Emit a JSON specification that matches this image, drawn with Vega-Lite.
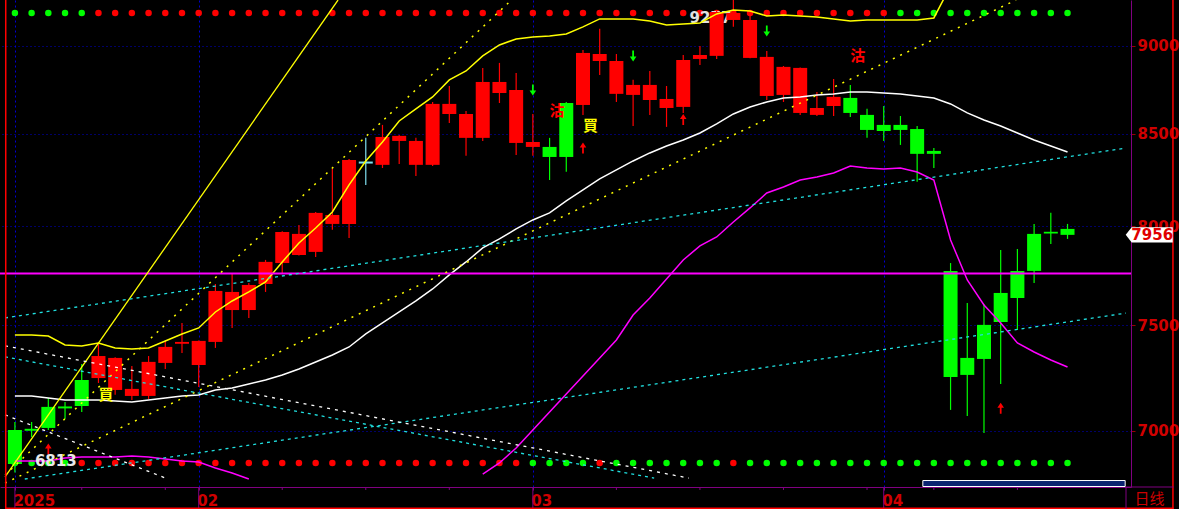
{
"$schema":"https://vega.github.io/schema/vega-lite/v6.json",
"width":1131,"height":487,
"autosize":{"type":"none"},
"padding":{"left":0,"top":0,"right":48,"bottom":22},
"background":"#000000",
"config":{"view":{"stroke":null},"font":"DejaVu Sans"},
"datasets":{
"c":[
{"i":0,"o":7005,"h":7041,"l":6813,"c":6851,"k":"g","tk":"g","bk":"g","up":7452.8,"mid":7161.8},
{"i":1,"o":7010,"h":7041,"l":6973,"c":7001,"k":"g","tk":"g","bk":"g","up":7452.8,"mid":7161.8},
{"i":2,"o":7111,"h":7152,"l":7005,"c":7014,"k":"g","tk":"g","bk":"g","up":7447.9,"mid":7152.4},
{"i":3,"o":7113,"h":7134,"l":7055,"c":7104,"k":"g","tk":"g","bk":"g","up":7404.3,"mid":7143.1},
{"i":4,"o":7237,"h":7313,"l":7087,"c":7115,"k":"g","tk":"g","bk":"r","up":7399.5,"mid":7143.1},
{"i":5,"o":7246,"h":7414,"l":7223,"c":7351,"k":"r","tk":"r","bk":"r","up":7413.9,"mid":7143.1},
{"i":6,"o":7190,"h":7345,"l":7167,"c":7342,"k":"r","tk":"r","bk":"r","up":7389.8,"mid":7138.4},
{"i":7,"o":7162,"h":7303,"l":7143,"c":7195,"k":"r","tk":"r","bk":"r","up":7385.0,"mid":7133.7},
{"i":8,"o":7162,"h":7351,"l":7148,"c":7323,"k":"r","tk":"r","bk":"r","up":7389.8,"mid":7143.1},
{"i":9,"o":7318,"h":7424,"l":7289,"c":7395,"k":"r","tk":"r","bk":"r","up":7423.6,"mid":7152.4},
{"i":10,"o":7410,"h":7511,"l":7366,"c":7419,"k":"r","tk":"r","bk":"r","up":7457.6,"mid":7161.8},
{"i":11,"o":7308,"h":7426,"l":7204,"c":7424,"k":"r","tk":"r","bk":"r","up":7486.9,"mid":7166.5},
{"i":12,"o":7419,"h":7705,"l":7390,"c":7670,"k":"r","tk":"r","bk":"r","up":7565.5,"mid":7189.9},
{"i":13,"o":7575,"h":7756,"l":7487,"c":7665,"k":"r","tk":"r","bk":"r","up":7620.0,"mid":7199.3},
{"i":14,"o":7575,"h":7710,"l":7536,"c":7700,"k":"r","tk":"r","bk":"r","up":7664.9,"mid":7218.1},
{"i":15,"o":7705,"h":7827,"l":7665,"c":7817,"k":"r","tk":"r","bk":"r","up":7715.1,"mid":7236.9},
{"i":16,"o":7811,"h":7975,"l":7761,"c":7971,"k":"r","tk":"r","bk":"r","up":7816.5,"mid":7260.6},
{"i":17,"o":7852,"h":8008,"l":7850,"c":7961,"k":"r","tk":"r","bk":"r","up":7914.1,"mid":7289.1},
{"i":18,"o":7868,"h":8076,"l":7842,"c":8071,"k":"r","tk":"r","bk":"r","up":7991.9,"mid":7322.5},
{"i":19,"o":8013,"h":8306,"l":7982,"c":8060,"k":"r","tk":"r","bk":"r","up":8075.8,"mid":7356.1},
{"i":20,"o":8013,"h":8360,"l":7940,"c":8355,"k":"r","tk":"r","bk":"r","up":8219.5,"mid":7394.6},
{"i":21,"o":8335,"h":8476,"l":8219,"c":8346,"k":"d","tk":"r","bk":"r","up":8349.2,"mid":7457.6},
{"i":22,"o":8328,"h":8548,"l":8311,"c":8481,"k":"r","tk":"r","bk":"r","up":8453.4,"mid":7511.3},
{"i":23,"o":8459,"h":8492,"l":8333,"c":8487,"k":"r","tk":"r","bk":"r","up":8570.1,"mid":7565.5},
{"i":24,"o":8328,"h":8476,"l":8268,"c":8459,"k":"r","tk":"r","bk":"r","up":8637.5,"mid":7620.0},
{"i":25,"o":8328,"h":8677,"l":8322,"c":8666,"k":"r","tk":"r","bk":"r","up":8705.5,"mid":7679.9},
{"i":26,"o":8609,"h":8768,"l":8559,"c":8666,"k":"r","tk":"r","bk":"r","up":8802.6,"mid":7750.5},
{"i":27,"o":8476,"h":8626,"l":8377,"c":8609,"k":"r","tk":"r","bk":"r","up":8854.4,"mid":7816.5},
{"i":28,"o":8476,"h":8872,"l":8459,"c":8791,"k":"r","tk":"r","bk":"r","up":8941.6,"mid":7888.3},
{"i":29,"o":8728,"h":8901,"l":8671,"c":8791,"k":"r","tk":"r","bk":"r","up":9006.0,"mid":7934.8},
{"i":30,"o":8448,"h":8843,"l":8382,"c":8745,"k":"r","tk":"r","bk":"r","up":9041.3,"mid":7986.7},
{"i":31,"o":8426,"h":8609,"l":8377,"c":8453,"k":"r","tk":"r","bk":"g","up":9053.2,"mid":8033.8},
{"i":32,"o":8426,"h":8476,"l":8246,"c":8371,"k":"g","tk":"r","bk":"g","up":9059.1,"mid":8070.6},
{"i":33,"o":8671,"h":8677,"l":8290,"c":8371,"k":"g","tk":"r","bk":"g","up":9071.0,"mid":8134.0},
{"i":34,"o":8660,"h":8977,"l":8604,"c":8959,"k":"r","tk":"r","bk":"g","up":9112.5,"mid":8192.7},
{"i":35,"o":8912,"h":9101,"l":8831,"c":8953,"k":"r","tk":"r","bk":"r","up":9160.2,"mid":8251.7},
{"i":36,"o":8723,"h":8953,"l":8677,"c":8912,"k":"r","tk":"r","bk":"g","up":9160.2,"mid":8300.3},
{"i":37,"o":8717,"h":8803,"l":8542,"c":8774,"k":"r","tk":"r","bk":"g","up":9160.2,"mid":8349.2},
{"i":38,"o":8688,"h":8854,"l":8604,"c":8774,"k":"r","tk":"r","bk":"g","up":9148.2,"mid":8393.0},
{"i":39,"o":8643,"h":8768,"l":8537,"c":8694,"k":"r","tk":"r","bk":"g","up":9124.4,"mid":8431.4},
{"i":40,"o":8649,"h":8947,"l":8615,"c":8918,"k":"r","tk":"r","bk":"g","up":9130.3,"mid":8464.4},
{"i":41,"o":8924,"h":9000,"l":8889,"c":8947,"k":"r","tk":"r","bk":"g","up":9136.3,"mid":8503.2},
{"i":42,"o":8942,"h":9214,"l":8924,"c":9202,"k":"r","tk":"r","bk":"g","up":9190.1,"mid":8553.4},
{"i":43,"o":9154,"h":9277,"l":9113,"c":9196,"k":"r","tk":"r","bk":"r","up":9214.1,"mid":8609.4},
{"i":44,"o":8930,"h":9202,"l":8928,"c":9154,"k":"r","tk":"r","bk":"g","up":9208.1,"mid":8648.8},
{"i":45,"o":8711,"h":8971,"l":8688,"c":8936,"k":"r","tk":"r","bk":"g","up":9178.1,"mid":8677.1},
{"i":46,"o":8717,"h":8883,"l":8677,"c":8878,"k":"r","tk":"r","bk":"g","up":9184.1,"mid":8699.8},
{"i":47,"o":8615,"h":8874,"l":8604,"c":8872,"k":"r","tk":"r","bk":"g","up":9178.1,"mid":8705.5},
{"i":48,"o":8604,"h":8734,"l":8598,"c":8643,"k":"r","tk":"r","bk":"g","up":9172.1,"mid":8716.8},
{"i":49,"o":8654,"h":8808,"l":8598,"c":8706,"k":"r","tk":"r","bk":"g","up":9160.2,"mid":8722.5},
{"i":50,"o":8700,"h":8774,"l":8592,"c":8615,"k":"g","tk":"r","bk":"g","up":9148.2,"mid":8733.9},
{"i":51,"o":8604,"h":8638,"l":8476,"c":8520,"k":"g","tk":"r","bk":"g","up":9154.2,"mid":8733.9},
{"i":52,"o":8548,"h":8654,"l":8459,"c":8514,"k":"g","tk":"r","bk":"g","up":9154.2,"mid":8728.2},
{"i":53,"o":8548,"h":8598,"l":8437,"c":8520,"k":"g","tk":"g","bk":"g","up":9154.2,"mid":8722.5},
{"i":54,"o":8525,"h":8542,"l":8236,"c":8388,"k":"g","tk":"g","bk":"g","up":9154.2,"mid":8711.1},
{"i":55,"o":8404,"h":8420,"l":8311,"c":8388,"k":"g","tk":"g","bk":"g","up":9166.2,"mid":8699.8},
{"i":56,"o":7771,"h":7811,"l":7097,"c":7251,"k":"g","tk":"g","bk":"g","up":9359.5,"mid":8665.7},
{"i":57,"o":7342,"h":7610,"l":7069,"c":7261,"k":"g","tk":"g","bk":"g","up":null,"mid":8615.0},
{"i":58,"o":7502,"h":7605,"l":6991,"c":7337,"k":"g","tk":"g","bk":"g","up":null,"mid":8575.7},
{"i":59,"o":7660,"h":7878,"l":7218,"c":7516,"k":"g","tk":"g","bk":"g","up":null,"mid":8542.2},
{"i":60,"o":7771,"h":7883,"l":7477,"c":7635,"k":"g","tk":"g","bk":"g","up":null,"mid":8503.2},
{"i":61,"o":7961,"h":8013,"l":7710,"c":7771,"k":"g","tk":"g","bk":"g","up":null,"mid":8464.4},
{"i":62,"o":7972,"h":8071,"l":7909,"c":7963,"k":"g","tk":"g","bk":"g","up":null,"mid":8431.4},
{"i":63,"o":7987,"h":8013,"l":7935,"c":7956,"k":"g","tk":"g","bk":"g","up":null,"mid":8398.4}
],
"lo":[
{"s":1,"i":0,"p":6864.2},{"s":1,"i":1,"p":6864.2},{"s":1,"i":2,"p":6864.2},{"s":1,"i":3,"p":6877.7},{"s":1,"i":4,"p":6882.2},{"s":1,"i":5,"p":6882.2},{"s":1,"i":6,"p":6882.2},{"s":1,"i":7,"p":6886.7},{"s":1,"i":8,"p":6882.2},{"s":1,"i":9,"p":6873.2},{"s":1,"i":10,"p":6864.2},{"s":1,"i":11,"p":6859.7},{"s":1,"i":12,"p":6833.0},{"s":1,"i":13,"p":6810.6},{"s":1,"i":14,"p":6784.0},
{"s":2,"i":28,"p":6806.2},{"s":2,"i":29,"p":6855.3},{"s":2,"i":30,"p":6922.8},{"s":2,"i":31,"p":7004.6},{"s":2,"i":32,"p":7087.4},{"s":2,"i":33,"p":7171.2},{"s":2,"i":34,"p":7255.9},{"s":2,"i":35,"p":7341.7},{"s":2,"i":36,"p":7428.5},{"s":2,"i":37,"p":7550.7},{"s":2,"i":38,"p":7635.0},{"s":2,"i":39,"p":7730.2},{"s":2,"i":40,"p":7826.7},{"s":2,"i":41,"p":7898.6},{"s":2,"i":42,"p":7945.2},{"s":2,"i":43,"p":8023.3},{"s":2,"i":44,"p":8097.0},{"s":2,"i":45,"p":8176.6},{"s":2,"i":46,"p":8208.7},{"s":2,"i":47,"p":8246.3},{"s":2,"i":48,"p":8262.5},{"s":2,"i":49,"p":8284.1},{"s":2,"i":50,"p":8322.1},{"s":2,"i":51,"p":8311.3},{"s":2,"i":52,"p":8305.8},{"s":2,"i":53,"p":8311.3},{"s":2,"i":54,"p":8289.5},{"s":2,"i":55,"p":8246.3},{"s":2,"i":56,"p":7929.6},{"s":2,"i":57,"p":7725.2},{"s":2,"i":58,"p":7600.2},{"s":2,"i":59,"p":7511.3},{"s":2,"i":60,"p":7413.9},{"s":2,"i":61,"p":7370.5},{"s":2,"i":62,"p":7332.1},{"s":2,"i":63,"p":7298.7}
],
"tr":[
{"g":"ys","id":1,"i":-0.59,"p":6793},{"g":"ys","id":1,"i":19.34,"p":9274},
{"g":"yd","id":2,"i":-0.59,"p":6802},{"g":"yd","id":2,"i":29.72,"p":9274},
{"g":"yd","id":3,"i":-0.59,"p":6766},{"g":"yd","id":3,"i":59.92,"p":9274},
{"g":"cd","id":4,"i":-0.59,"p":7536},{"g":"cd","id":4,"i":66.5,"p":8420},
{"g":"cd","id":5,"i":0.59,"p":6784},{"g":"cd","id":5,"i":66.5,"p":7560},
{"g":"cd","id":6,"i":-0.59,"p":7347},{"g":"cd","id":6,"i":38.26,"p":6788},
{"g":"wd","id":7,"i":-0.59,"p":7400},{"g":"wd","id":7,"i":40.34,"p":6788},
{"g":"wd","id":8,"i":-0.59,"p":7074},{"g":"wd","id":8,"i":9.02,"p":6788}
],
"ar":[
{"i":2,"p":6918,"k":"r"},{"i":31,"p":8745,"k":"g"},{"i":34,"p":8420,"k":"r"},{"i":37,"p":8941,"k":"g"},{"i":40,"p":8578,"k":"r"},{"i":45,"p":9089,"k":"g"},{"i":59,"p":7105,"k":"r"}
],
"tx":[
{"i":5,"p":7166,"t":"買","k":"y"},{"i":34,"p":8542,"t":"買","k":"y"},{"i":32,"p":8626,"t":"沽","k":"r"},{"i":50,"p":8942,"t":"沽","k":"r"}
],
"mo":[{"i":0,"t":"2025"},{"i":11,"t":"02"},{"i":31,"t":"03"},{"i":52,"t":"04"}],
"wk":[{"i":4},{"i":9},{"i":16},{"i":21},{"i":26},{"i":36},{"i":41},{"i":46},{"i":51},{"i":55},{"i":60}]
},
"layer":[
{"data":{"name":"c"},"mark":{"type":"rule","opacity":0},
 "encoding":{
 "x":{"field":"i","type":"quantitative","scale":{"domain":[-0.593,66.5],"nice":false,"zero":false},
  "axis":{"orient":"bottom","values":[0,11,31,52],"labelExpr":"datum.value==0?'2025':datum.value==11?'02':datum.value==31?'03':'04'","title":null,"labelColor":"#d00000","labelFont":"DejaVu Sans","labelFontWeight":"bold","labelFontSize":15,"labelAlign":"left","labelBaseline":"alphabetic","labelPadding":15.5,"labelOffset":-2,"tickSize":3,"tickColor":"#800080","domainColor":"#800080","domainWidth":1,"grid":true,"gridColor":"#0000d0","gridDash":[2,3],"labelOverlap":false,"labelFlush":false,"labelBound":false}},
 "y":{"field":"l","type":"quantitative","scale":{"type":"log","domain":[6748.7,9274.1],"nice":false,"zero":false},
  "axis":{"orient":"right","values":[7000,7500,8000,8500,9000],"format":"d","title":null,"labelColor":"#d00000","labelFont":"DejaVu Sans","labelFontWeight":"bold","labelFontSize":15,"labelAlign":"left","labelBaseline":"middle","labelPadding":2,"tickSize":4,"tickColor":"#990000","domainColor":"#800080","domainWidth":1,"grid":true,"gridColor":"#0000d0","gridDash":[1,3],"labelOverlap":false,"labelFlush":false,"labelBound":false}},
 "y2":{"field":"h"}}},
{"data":{"name":"mo"},"mark":{"type":"rule","color":"#800080","strokeWidth":1},
 "encoding":{"x":{"field":"i","type":"quantitative"},"y":{"datum":6748.7,"type":"quantitative"},"y2":{"datum":6652.5}}},
{"data":{"name":"wk"},"mark":{"type":"rule","color":"#800080","strokeWidth":1},
 "encoding":{"x":{"field":"i","type":"quantitative"},"y":{"datum":6748.7,"type":"quantitative"},"y2":{"datum":6735.5}}},
{"data":{"name":"c"},"mark":{"type":"point","filled":true,"size":42,"opacity":1,"strokeWidth":0},
 "encoding":{"x":{"field":"i","type":"quantitative"},"y":{"datum":9196,"type":"quantitative"},
 "color":{"field":"tk","type":"nominal","scale":{"domain":["r","g","d","y","w"],"range":["#ff0000","#00ff00","#80e0f0","#ffff00","#ffffff"]},"legend":null}}},
{"data":{"name":"c"},"mark":{"type":"point","filled":true,"size":42,"opacity":1,"strokeWidth":0},
 "encoding":{"x":{"field":"i","type":"quantitative"},"y":{"datum":6855,"type":"quantitative"},
 "color":{"field":"bk","type":"nominal","scale":{"domain":["r","g","d","y","w"],"range":["#ff0000","#00ff00","#80e0f0","#ffff00","#ffffff"]},"legend":null}}},
{"data":{"values":[{"i":43,"p":9277,"t":"9277"}]},"mark":{"type":"text","align":"right","baseline":"middle","dx":-2,"dy":18,"fontSize":15,"fontWeight":"bold","color":"#e0e0e0"},
 "encoding":{"x":{"field":"i","type":"quantitative"},"y":{"field":"p","type":"quantitative"},"text":{"field":"t"}}},
{"data":{"name":"c"},"mark":{"type":"rule","strokeWidth":1.2},
 "encoding":{"x":{"field":"i","type":"quantitative"},"y":{"field":"l","type":"quantitative"},"y2":{"field":"h"},
 "color":{"field":"k","type":"nominal","scale":{"domain":["r","g","d","y","w"],"range":["#ff0000","#00ff00","#80e0f0","#ffff00","#ffffff"]},"legend":null}}},
{"data":{"name":"c"},"mark":{"type":"bar","size":14,"strokeWidth":0},
 "encoding":{"x":{"field":"i","type":"quantitative"},"y":{"field":"o","type":"quantitative"},"y2":{"field":"c"},
 "color":{"field":"k","type":"nominal","scale":{"domain":["r","g","d","y","w"],"range":["#ff0000","#00ff00","#80e0f0","#ffff00","#ffffff"]},"legend":null}}},
{"data":{"name":"c"},"mark":{"type":"line","color":"#ffff00","strokeWidth":1.5,"clip":true},
 "encoding":{"x":{"field":"i","type":"quantitative"},"y":{"field":"up","type":"quantitative"}}},
{"data":{"name":"c"},"mark":{"type":"line","color":"#ffffff","strokeWidth":1.5,"clip":true},
 "encoding":{"x":{"field":"i","type":"quantitative"},"y":{"field":"mid","type":"quantitative"}}},
{"data":{"name":"lo"},"mark":{"type":"line","color":"#ff00ff","strokeWidth":1.5,"clip":true},
 "encoding":{"x":{"field":"i","type":"quantitative"},"y":{"field":"p","type":"quantitative"},"detail":{"field":"s"}}},
{"data":{"values":[{}]},"mark":{"type":"rule","color":"#ff00ff","strokeWidth":2},
 "encoding":{"y":{"datum":7758,"type":"quantitative"}}},
{"data":{"name":"tr"},"transform":[{"filter":"datum.g=='ys'"}],"mark":{"type":"line","color":"#ffff00","strokeWidth":1.3,"clip":true},
 "encoding":{"x":{"field":"i","type":"quantitative"},"y":{"field":"p","type":"quantitative"},"detail":{"field":"id"}}},
{"data":{"name":"tr"},"transform":[{"filter":"datum.g=='yd'"}],"mark":{"type":"line","color":"#ffff00","strokeWidth":1.5,"strokeDash":[2,6],"clip":true},
 "encoding":{"x":{"field":"i","type":"quantitative"},"y":{"field":"p","type":"quantitative"},"detail":{"field":"id"}}},
{"data":{"name":"tr"},"transform":[{"filter":"datum.g=='cd'"}],"mark":{"type":"line","color":"#20e0e0","strokeWidth":1.3,"strokeDash":[3,4],"clip":true},
 "encoding":{"x":{"field":"i","type":"quantitative"},"y":{"field":"p","type":"quantitative"},"detail":{"field":"id"}}},
{"data":{"name":"tr"},"transform":[{"filter":"datum.g=='wd'"}],"mark":{"type":"line","color":"#ffffff","strokeWidth":1.3,"strokeDash":[3,5],"clip":true},
 "encoding":{"x":{"field":"i","type":"quantitative"},"y":{"field":"p","type":"quantitative"},"detail":{"field":"id"}}},
{"data":{"name":"ar"},"mark":{"type":"point","filled":true,"size":121,"opacity":1,"strokeWidth":0},
 "encoding":{"x":{"field":"i","type":"quantitative"},"y":{"field":"p","type":"quantitative"},
 "shape":{"field":"k","type":"nominal","scale":{"domain":["r","g"],"range":["M-0.16,1L0.16,1L0.16,-0.1L0.6,-0.1L0,-1L-0.6,-0.1L-0.16,-0.1Z","M-0.16,-1L0.16,-1L0.16,0.1L0.6,0.1L0,1L-0.6,0.1L-0.16,0.1Z"]},"legend":null},
 "color":{"field":"k","type":"nominal","scale":{"domain":["r","g","d","y","w"],"range":["#ff0000","#00ff00","#80e0f0","#ffff00","#ffffff"]},"legend":null}}},
{"data":{"name":"tx"},"mark":{"type":"text","align":"left","baseline":"middle","fontSize":15,"fontWeight":"bold","font":"Noto Sans CJK TC"},
 "encoding":{"x":{"field":"i","type":"quantitative"},"y":{"field":"p","type":"quantitative"},"text":{"field":"t"},
 "color":{"field":"k","type":"nominal","scale":{"domain":["r","g","d","y","w"],"range":["#ff0000","#00ff00","#80e0f0","#ffff00","#ffffff"]},"legend":null}}},
{"data":{"values":[{"i":0,"p":6813,"t":"6813"}]},"mark":{"type":"text","align":"left","baseline":"middle","dx":20,"dy":-11,"fontSize":15,"fontWeight":"bold","color":"#e8e8e8"},
 "encoding":{"x":{"field":"i","type":"quantitative"},"y":{"field":"p","type":"quantitative"},"text":{"field":"t"}}},
{"data":{"values":[{}]},"mark":{"type":"rule","color":"#ff0000","strokeWidth":1.5},
 "encoding":{"x":{"datum":69.31,"type":"quantitative"},"y":{"datum":9274.1,"type":"quantitative"},"y2":{"datum":6652.5}}},
{"data":{"values":[{}]},"mark":{"type":"rule","color":"#ff0000","strokeWidth":1.5},
 "encoding":{"x":{"datum":-0.549,"type":"quantitative"},"y":{"datum":9274.1,"type":"quantitative"},"y2":{"datum":6652.5}}},
{"data":{"values":[{}]},"mark":{"type":"rule","color":"#ff0000","strokeWidth":1.5},
 "encoding":{"x":{"datum":-0.593,"type":"quantitative"},"x2":{"datum":69.35},"y":{"datum":6656,"type":"quantitative"}}},
{"data":{"values":[{}]},"mark":{"type":"rule","color":"#800080","strokeWidth":1},
 "encoding":{"x":{"datum":66.5,"type":"quantitative"},"y":{"datum":6748.7,"type":"quantitative"},"y2":{"datum":6652.5}}},
{"data":{"values":[{}]},"mark":{"type":"rule","color":"#800080","strokeWidth":1},
 "encoding":{"x":{"datum":66.5,"type":"quantitative"},"x2":{"datum":69.35},"y":{"datum":6748.7,"type":"quantitative"}}},
{"data":{"values":[{}]},"mark":{"type":"rect","fill":"#0a2470","stroke":"#ffffff","strokeWidth":1},
 "encoding":{"x":{"datum":54.34,"type":"quantitative"},"x2":{"datum":66.45},"y":{"datum":6777.3,"type":"quantitative"},"y2":{"datum":6750.9}}},
{"data":{"values":[{"c":7956}]},"mark":{"type":"point","filled":true,"size":2209,"opacity":1,"strokeWidth":0,"color":"#ffffff","shape":"M-1,0L-0.745,-0.32L1,-0.32L1,0.32L-0.745,0.32Z"},
 "encoding":{"x":{"datum":67.89,"type":"quantitative"},"y":{"field":"c","type":"quantitative"}}},
{"data":{"values":[{"c":7956}]},"mark":{"type":"text","align":"center","baseline":"middle","dx":3,"fontSize":15,"fontWeight":"bold","color":"#e00000"},
 "encoding":{"x":{"datum":67.89,"type":"quantitative"},"y":{"field":"c","type":"quantitative"},"text":{"field":"c","type":"quantitative","format":"d"}}},
{"data":{"values":[{"t":"日线"}]},"mark":{"type":"text","align":"center","baseline":"middle","fontSize":15,"font":"Noto Sans CJK SC","color":"#cc0000"},
 "encoding":{"x":{"datum":67.9,"type":"quantitative"},"y":{"datum":6694,"type":"quantitative"},"text":{"field":"t"}}}
]
}
